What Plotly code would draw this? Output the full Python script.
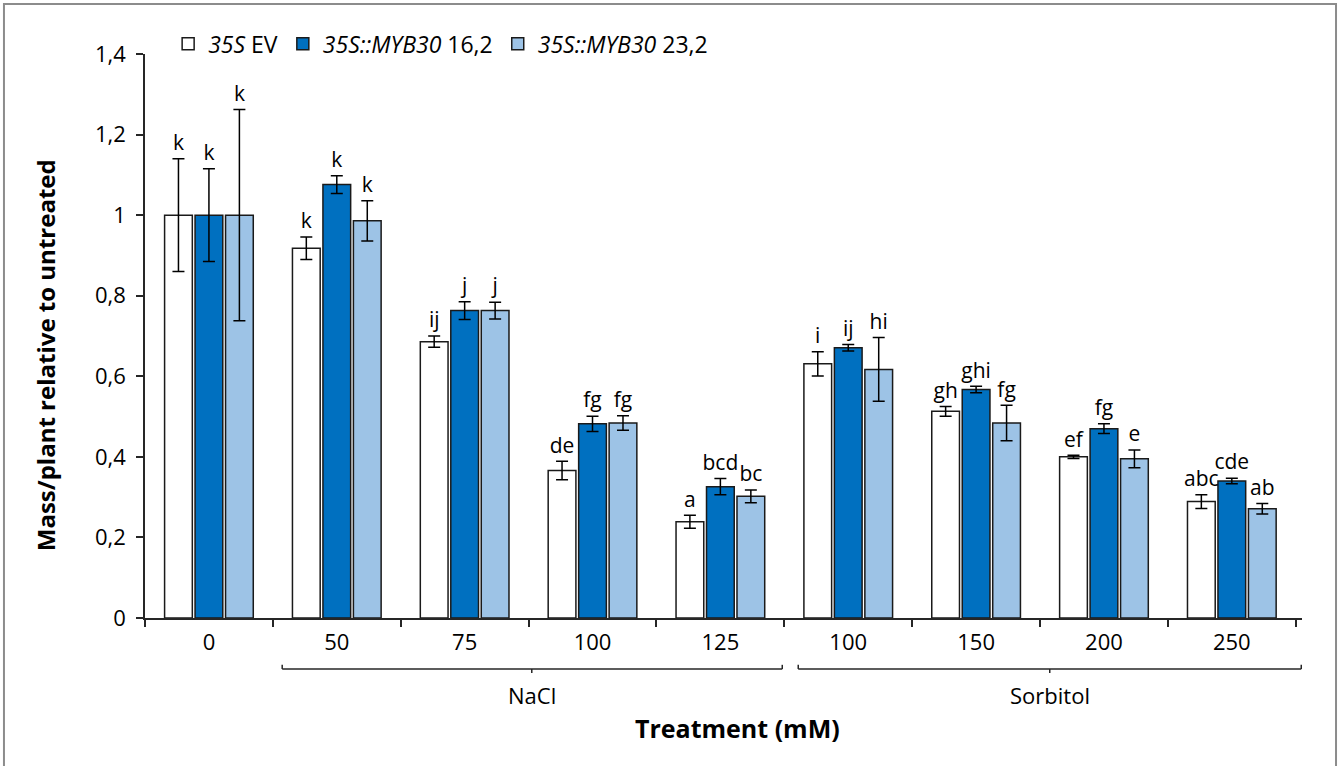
import plotly.graph_objects as go

# ---- data ----
cat_ids = ["0", "NaCl 50", "NaCl 75", "NaCl 100", "NaCl 125",
           "Sorbitol 100", "Sorbitol 150", "Sorbitol 200", "Sorbitol 250"]
tick_labels = ["0", "50", "75", "100", "125", "100", "150", "200", "250"]

ev = [1.0, 0.918, 0.686, 0.366, 0.239, 0.631, 0.513, 0.400, 0.289]
ev_err = [0.140, 0.028, 0.014, 0.023, 0.016, 0.030, 0.012, 0.004, 0.017]
ev_letters = ["k", "k", "ij", "de", "a", "i", "gh", "ef", "abc"]

m16 = [1.0, 1.076, 0.763, 0.482, 0.326, 0.671, 0.567, 0.470, 0.340]
m16_err = [0.115, 0.022, 0.022, 0.019, 0.020, 0.008, 0.008, 0.012, 0.007]
m16_letters = ["k", "k", "j", "fg", "bcd", "ij", "ghi", "fg", "cde"]

m23 = [1.0, 0.986, 0.763, 0.484, 0.302, 0.617, 0.484, 0.395, 0.271]
m23_err = [0.262, 0.050, 0.021, 0.018, 0.016, 0.079, 0.044, 0.022, 0.013]
m23_letters = ["k", "k", "j", "fg", "bc", "hi", "fg", "e", "ab"]

series_names = ["<i>35S</i> EV", "<i>35S::MYB30</i> 16,2", "<i>35S::MYB30</i> 23,2"]
y_tickvals = [0, 0.2, 0.4, 0.6, 0.8, 1.0, 1.2, 1.4]
y_ticktext = ["0", "0,2", "0,4", "0,6", "0,8", "1", "1,2", "1,4"]

FONT = "Open Sans"
colors = ["#FFFFFF", "#0070C0", "#9DC3E6"]
BARGAP = 0.285

fig = go.Figure()
series = [(ev, ev_err, ev_letters), (m16, m16_err, m16_letters), (m23, m23_err, m23_letters)]
for i, (vals, errs, lets) in enumerate(series):
    fig.add_trace(go.Bar(
        x=cat_ids, y=vals, name=series_names[i],
        marker=dict(color=colors[i], line=dict(color="#1a1a1a", width=1.5)),
        error_y=dict(type="data", array=errs, visible=True, color="#000000",
                     thickness=1.5, width=6),
    ))
for i, (vals, errs, lets) in enumerate(series):
    fig.add_trace(go.Scatter(
        x=cat_ids, y=[v + e for v, e in zip(vals, errs)], mode="markers+text",
        marker=dict(size=4, opacity=0),
        text=lets, textposition="top center",
        textfont=dict(family=FONT, size=21, color="#000000"),
        showlegend=False, hoverinfo="skip", cliponaxis=False,
    ))

shapes = []
def bracket(x0, x1, xc):
    yb, yu, yd = -0.0904, -0.083, -0.0975
    return [
        dict(type="line", xref="x", yref="paper", x0=x0, x1=x1, y0=yb, y1=yb),
        dict(type="line", xref="x", yref="paper", x0=x0, x1=x0, y0=yb, y1=yu),
        dict(type="line", xref="x", yref="paper", x0=x1, x1=x1, y0=yb, y1=yu),
        dict(type="line", xref="x", yref="paper", x0=xc, x1=xc, y0=yb, y1=yd),
    ]
shapes += bracket(0.573, 4.484, 2.525)
shapes += bracket(4.609, 8.543, 6.576)
for s in shapes:
    s["line"] = dict(color="#262626", width=1.5)
# outer frame
shapes.append(dict(type="rect", xref="paper", yref="paper",
                   x0=-0.1219, x1=1.0294, y0=-0.30, y1=1.0887,
                   line=dict(color="#8c8c8c", width=2), fillcolor="rgba(0,0,0,0)"))

annotations = [
    dict(text="NaCl", x=2.525, xref="x", y=-0.1365, yref="paper", showarrow=False,
         font=dict(family=FONT, size=22, color="#000000"), yanchor="middle"),
    dict(text="Sorbitol", x=6.576, xref="x", y=-0.1365, yref="paper", showarrow=False,
         font=dict(family=FONT, size=22, color="#000000"), yanchor="middle"),
    dict(text="<b>Treatment (mM)</b>", x=0.5117, xref="paper", y=-0.195, yref="paper",
         showarrow=False, font=dict(family=FONT, size=25, color="#000000"), yanchor="middle"),
    dict(text="<b>Mass/plant relative to untreated</b>", x=-0.0864, xref="paper",
         y=0.466, yref="paper", textangle=-90, showarrow=False,
         font=dict(family=FONT, size=24, color="#000000"), xanchor="center", yanchor="middle"),
]

fig.update_layout(
    width=1341, height=766,
    margin=dict(l=145, r=39, t=54, b=148),
    paper_bgcolor="white", plot_bgcolor="white",
    barmode="group", bargap=BARGAP, bargroupgap=0.09,
    scattermode="group", scattergap=BARGAP,
    font=dict(family=FONT, size=22, color="#000000"),
    showlegend=True,
    legend=dict(orientation="h", x=0.02, xanchor="left", y=1.018, yanchor="middle",
                font=dict(family=FONT, size=23, color="#000000"),
                bgcolor="rgba(0,0,0,0)", itemwidth=30, traceorder="normal"),
    shapes=shapes, annotations=annotations,
)
fig.update_xaxes(
    type="category", categoryorder="array", categoryarray=cat_ids,
    tickmode="array", tickvals=cat_ids, ticktext=tick_labels, tickson="boundaries",
    showline=True, linecolor="#262626", linewidth=1.5,
    ticks="outside", ticklen=7, tickwidth=1.5, tickcolor="#262626",
    showgrid=False, zeroline=False, ticklabelstandoff=4,
    tickfont=dict(family=FONT, size=22, color="#000000"),
)
fig.update_yaxes(
    range=[0, 1.4], tickmode="array", tickvals=y_tickvals, ticktext=y_ticktext,
    showline=True, linecolor="#262626", linewidth=1.5,
    ticks="outside", ticklen=7, tickwidth=1.5, tickcolor="#262626",
    showgrid=False, zeroline=False, ticklabelstandoff=6,
    tickfont=dict(family=FONT, size=22, color="#000000"),
)

fig.write_html("out.html")
